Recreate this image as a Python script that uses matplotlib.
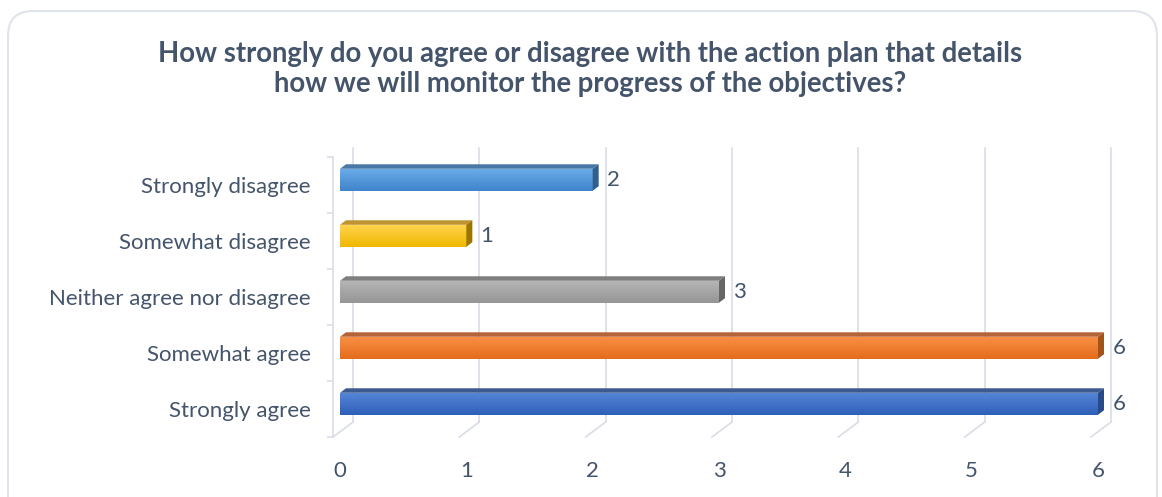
import numpy as np
import matplotlib
matplotlib.use('Agg')
import matplotlib.pyplot as plt
from matplotlib.patches import Polygon, FancyBboxPatch
from matplotlib.colors import LinearSegmentedColormap
from matplotlib.transforms import ScaledTranslation

plt.rcParams['font.family'] = ['Lato', 'DejaVu Sans']

# data (top to bottom as shown)
categories = ['Strongly disagree', 'Somewhat disagree', 'Neither agree nor disagree',
              'Somewhat agree', 'Strongly agree']
values = [2, 1, 3, 6, 6]
title = ('How strongly do you agree or disagree with the action plan that details\n'
         'how we will monitor the progress of the objectives?')
xticks = [0, 1, 2, 3, 4, 5, 6]

# colours: front (light, dark), top face, side face
front_cols = [('#6aaae6', '#3f85cc'), ('#ffd34d', '#f0b800'), ('#b4b4b4', '#969696'),
              ('#f88f45', '#e46c1c'), ('#5585d6', '#2e5fb8')]
top_cols = ['#4a78a6', '#bf9430', '#7f7f7f', '#b5643a', '#3d5a90']
side_cols = ['#2f5f8c', '#9c7400', '#666666', '#a0541c', '#2a4a85']

text_col = '#44546a'
grid_col = '#d9dde6'

fig = plt.figure(figsize=(11.62, 4.97), dpi=100)
W, H = 1162, 497

# rounded chart border (runs off the bottom of the picture)
border = FancyBboxPatch((8 / W, -40 / H), 1149 / W, (486 + 40) / H,
                        boxstyle='round,pad=0,rounding_size=%f' % (25 / W),
                        transform=fig.transFigure, facecolor='none',
                        edgecolor='#dfe3ea', lw=1.5, mutation_aspect=W / H,
                        zorder=-1)
fig.patches.append(border)

fig.text(590 / W, 1 - 69 / H, title, ha='center', va='center', fontsize=19.8,
         fontweight='bold', color=text_col, linespacing=1.2)

ax = fig.add_axes([333 / W, 1 - 437 / H, 758 / W, 280 / H])
ax.set_xlim(0, 6)
ax.set_ylim(-0.5, len(categories) - 0.5)
ax.invert_yaxis()
ax.patch.set_alpha(0)

# depth vector (data units), bars sit between f0 and f1 of depth
DX, DY = 20 / 126.3, 15 / 56
f0, f1 = 0.35, 0.65
h = 0.196
ybot, ytop = len(categories) - 0.5, -0.5

# back-wall gridlines and floor lines
for v in xticks:
    ax.plot([v + DX, v + DX], [ybot - DY, ytop - DY + 0.1], color=grid_col, lw=1.2,
            zorder=1, clip_on=False)
    ax.plot([v, v + DX], [ybot, ybot - DY], color=grid_col, lw=1.2, zorder=1,
            clip_on=False)

for i, (cat, v) in enumerate(zip(categories, values)):
    c = i
    x0 = f0 * DX
    x1 = v + f0 * DX
    yt = c - h - f0 * DY
    yb = c + h - f0 * DY
    cmap = LinearSegmentedColormap.from_list('g', list(front_cols[i]))
    grad = np.linspace(0, 1, 64).reshape(-1, 1)
    ax.imshow(grad, cmap=cmap, extent=(x0, x1, yb, yt), aspect='auto',
              origin='upper', zorder=3, clip_on=False)
    # top face
    top = Polygon([(x0, yt), (x1, yt), (v + f1 * DX, c - h - f1 * DY),
                   (f1 * DX, c - h - f1 * DY)], closed=True,
                  facecolor=top_cols[i], edgecolor='none', zorder=3, clip_on=False)
    ax.add_patch(top)
    # side face
    side = Polygon([(x1, yt), (v + f1 * DX, c - h - f1 * DY),
                    (v + f1 * DX, c + h - f1 * DY), (x1, yb)], closed=True,
                   facecolor=side_cols[i], edgecolor='none', zorder=3, clip_on=False)
    ax.add_patch(side)
    ax.annotate(str(v), (v + f1 * DX, c - f0 * DY), xytext=(6, 0),
                textcoords='offset points', ha='left', va='center',
                fontsize=16, color=text_col, zorder=4, annotation_clip=False)

ax.set_xlim(0, 6)
ax.set_ylim(len(categories) - 0.5, -0.5)

# axes styling
for s in ['top', 'right', 'bottom']:
    ax.spines[s].set_visible(False)
ax.spines['left'].set_color(grid_col)
ax.spines['left'].set_linewidth(1.2)

ax.set_yticks(range(len(categories)))
ax.set_yticklabels(categories)
ax.set_yticks(np.arange(-0.5, len(categories), 1.0), minor=True)
ax.tick_params(axis='y', which='major', length=0, pad=16, labelsize=16,
               labelcolor=text_col)
ax.tick_params(axis='y', which='minor', length=4, width=1.2, color=grid_col)

ax.set_xticks(xticks)
ax.set_xticklabels([str(t) for t in xticks])
ax.tick_params(axis='x', length=0, pad=17, labelsize=16, labelcolor=text_col)
off = ScaledTranslation(7 / 100, 0, fig.dpi_scale_trans)
for lbl in ax.get_xticklabels():
    lbl.set_transform(lbl.get_transform() + off)

fig.savefig('out.png', dpi=100)
